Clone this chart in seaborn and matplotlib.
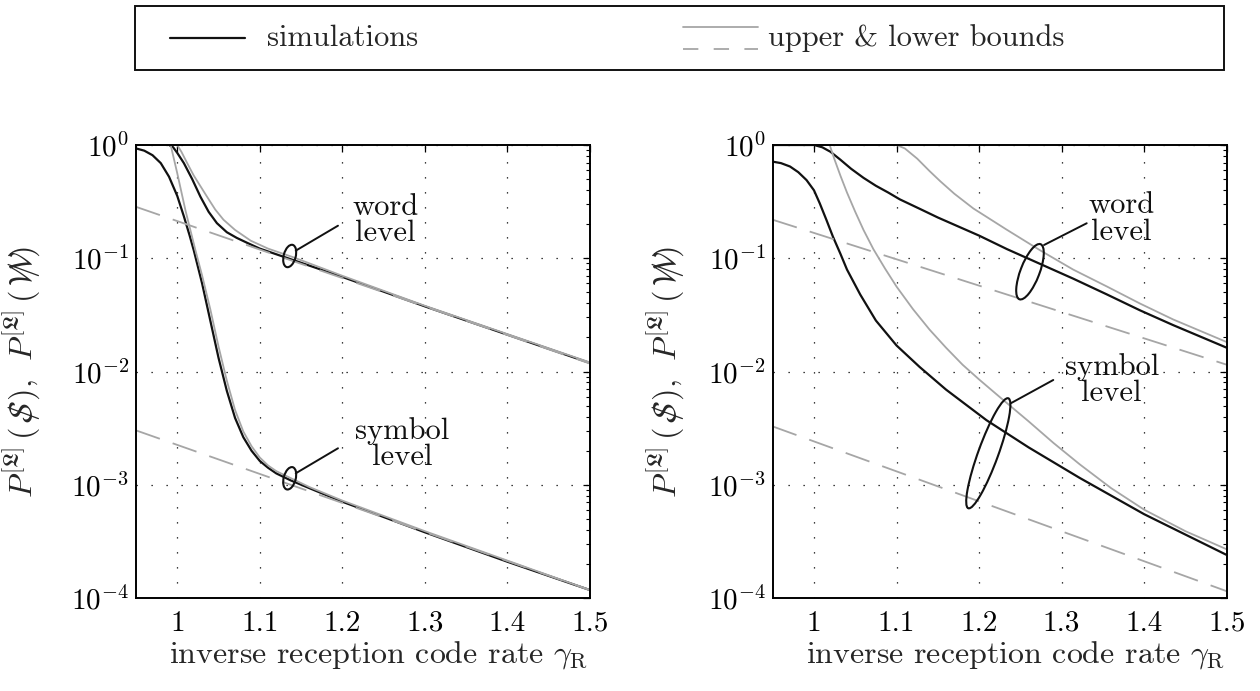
import numpy as np
import pandas as pd
import matplotlib
matplotlib.use("Agg")
import matplotlib.pyplot as plt
import seaborn as sns
from matplotlib.patches import Ellipse, Rectangle
from matplotlib.lines import Line2D
from matplotlib.transforms import ScaledTranslation
from matplotlib.ticker import FixedLocator, NullLocator, LogLocator, NullFormatter
from matplotlib.mathtext import MathTextParser
from matplotlib.font_manager import FontProperties

# ---------------- data (x = inverse reception code rate, values = log10 P) -------------
# left panel
L_word_sim_x = [0.99, 0.995, 1.0, 1.008, 1.018, 1.028, 1.038, 1.048, 1.06, 1.072, 1.085, 1.1, 1.12, 1.15, 1.2, 1.3, 1.4, 1.5]
L_word_sim_y = [0.0, -0.02, -0.07, -0.16, -0.30, -0.456, -0.59, -0.69, -0.77, -0.82, -0.865, -0.915, -0.965, -1.04, -1.165, -1.425, -1.675, -1.925]
L_word_up_x = [0.95, 1.0, 1.005, 1.012, 1.02, 1.036, 1.046, 1.056, 1.07, 1.089, 1.11, 1.14, 1.2, 1.3, 1.4, 1.5]
L_word_up_y = [0.0, 0.0, -0.06, -0.16, -0.27, -0.456, -0.57, -0.66, -0.75, -0.845, -0.915, -0.99, -1.155, -1.42, -1.67, -1.92]
L_word_lo_x = [0.95, 1.5]
L_word_lo_y = [-0.546, -1.93]

L_sym_sim_x = [0.95, 0.96, 0.97, 0.98, 0.99, 1.0, 1.008, 1.015, 1.02, 1.03, 1.04, 1.05, 1.06, 1.07, 1.08,
               1.09, 1.1, 1.11, 1.12, 1.137, 1.16, 1.2, 1.3, 1.4, 1.5]
L_sym_sim_y = [-0.03, -0.05, -0.09, -0.16, -0.28, -0.45, -0.63, -0.80, -0.93, -1.22, -1.55, -1.88, -2.17, -2.41, -2.58,
               -2.70, -2.79, -2.85, -2.90, -2.96, -3.03, -3.15, -3.42, -3.68, -3.93]
L_sym_up_x = [0.95, 0.992, 1.0, 1.01, 1.022, 1.03, 1.04, 1.05, 1.06, 1.07, 1.08, 1.09, 1.1, 1.11, 1.12, 1.137,
              1.16, 1.2, 1.3, 1.4, 1.5]
L_sym_up_y = [0.0, 0.0, -0.25, -0.58, -0.93, -1.15, -1.45, -1.78, -2.08, -2.34, -2.53, -2.66, -2.76, -2.83, -2.88, -2.94,
              -3.02, -3.14, -3.41, -3.67, -3.93]
L_sym_lo_x = [0.95, 1.5]
L_sym_lo_y = [-2.52, -3.93]

# right panel
R_word_sim_x = [0.95, 1.0, 1.01, 1.02, 1.032, 1.045, 1.06, 1.075, 1.09, 1.104, 1.13, 1.15, 1.2, 1.234, 1.274,
                1.314, 1.355, 1.395, 1.435, 1.5]
R_word_sim_y = [0.0, 0.0, -0.02, -0.06, -0.13, -0.21, -0.29, -0.36, -0.42, -0.48, -0.57, -0.64, -0.80, -0.92, -1.05,
                -1.18, -1.32, -1.46, -1.59, -1.79]
R_word_up_x = [0.95, 1.1, 1.11, 1.125, 1.14, 1.153, 1.17, 1.193, 1.234, 1.274, 1.314, 1.355, 1.395, 1.435, 1.5]
R_word_up_y = [0.0, 0.0, -0.03, -0.12, -0.23, -0.32, -0.43, -0.56, -0.75, -0.93, -1.10, -1.25, -1.40, -1.54, -1.74]
R_word_lo_x = [0.95, 1.5]
R_word_lo_y = [-0.66, -1.94]

R_sym_sim_x = [0.95, 0.96, 0.971, 0.981, 0.991, 1.0, 1.007, 1.015, 1.023, 1.032, 1.04, 1.056, 1.075, 1.1, 1.128,
               1.16, 1.209, 1.26, 1.322, 1.4, 1.5]
R_sym_sim_y = [-0.147, -0.16, -0.19, -0.24, -0.31, -0.40, -0.515, -0.66, -0.81, -0.96, -1.10, -1.32, -1.55, -1.77, -1.96,
               -2.16, -2.43, -2.67, -2.94, -3.26, -3.62]
R_sym_up_x = [0.95, 1.019, 1.025, 1.032, 1.04, 1.05, 1.06, 1.072, 1.086, 1.1, 1.12, 1.14, 1.16, 1.18, 1.2, 1.229,
              1.26, 1.29, 1.322, 1.36, 1.4, 1.45, 1.5]
R_sym_up_y = [0.0, 0.0, -0.13, -0.27, -0.42, -0.59, -0.75, -0.92, -1.09, -1.25, -1.45, -1.63, -1.79, -1.94, -2.07, -2.25,
              -2.44, -2.63, -2.82, -3.03, -3.22, -3.41, -3.57]
R_sym_lo_x = [0.95, 1.5]
R_sym_lo_y = [-2.485, -3.94]

x_ticks = [1.0, 1.1, 1.2, 1.3, 1.4, 1.5]
x_tick_labels = ["1", "1.1", "1.2", "1.3", "1.4", "1.5"]
y_ticks = [1e-4, 1e-3, 1e-2, 1e-1, 1e0]
y_tick_labels = [r"$10^{-4}$", r"$10^{-3}$", r"$10^{-2}$", r"$10^{-1}$", r"$10^{0}$"]

legend_labels = ["simulations", "upper & lower bounds"]
x_label = r"inverse reception code rate $\gamma_{\mathrm{R}}$"

# ---------------- style -------------------------------------------------------------------
sns.set_theme(style="white")
plt.rcParams.update({
    "font.family": ["cmr10", "DejaVu Serif"],
    "mathtext.fontset": "cm",
    "axes.formatter.use_mathtext": True,
    "axes.unicode_minus": True,
    "font.size": 21,
    "axes.edgecolor": "black",
    "axes.linewidth": 1.4,
})

def make_ylabel():
    cands = [
        r"$P^{[\mathfrak{L}]}\,(\,\mathcal{S}\hspace{-0.62}/\,),\;\, P^{[\mathfrak{L}]}\,(\,\mathcal{W}\hspace{-0.85}/\,)$",
        r"$P^{[\mathfrak{L}]}\,(\,\mathcal{S}\!\!\!\!/\,),\;\, P^{[\mathfrak{L}]}\,(\,\mathcal{W}\!\!\!\!\!\!/\,)$",
        r"$P^{[L]}(S),\, P^{[L]}(W)$",
    ]
    parser = MathTextParser("agg")
    for c in cands:
        try:
            parser.parse(c, dpi=100, prop=FontProperties(size=23))
            return c
        except Exception:
            continue
    return cands[-1]

y_label = make_ylabel()

W, H = 1260, 691
fig = plt.figure(figsize=(W / 100, H / 100), dpi=100)
fig.patch.set_facecolor("white")

ax_w, ax_h = 454 / W, 453 / H
axL = fig.add_axes([136 / W, 1 - 598 / H, ax_w, ax_h])
axR = fig.add_axes([772.7 / W, 1 - 598 / H, ax_w, ax_h])

BLACK = "#111111"
GRAY = "#a6a6a6"

def draw(ax, xs, ly, color, lw, dashes=None):
    df = pd.DataFrame({"x": xs, "p": np.power(10.0, np.asarray(ly, dtype=float))})
    sns.lineplot(data=df, x="x", y="p", ax=ax, color=color, lw=lw, sort=False,
                 estimator=None, legend=False)
    ln = ax.lines[-1]
    if dashes is not None:
        ln.set_dashes(dashes)
    ln.set_solid_capstyle("butt")
    ln.set_solid_joinstyle("round")
    return ln

def style_axes(ax):
    ax.set_yscale("log")
    ax.set_xlim(0.95, 1.5)
    ax.set_ylim(1e-4, 1)
    ax.xaxis.set_major_locator(FixedLocator(x_ticks))
    ax.set_xticklabels(x_tick_labels)
    ax.xaxis.set_minor_locator(NullLocator())
    ax.yaxis.set_major_locator(FixedLocator(y_ticks))
    ax.set_yticklabels(y_tick_labels)
    ax.yaxis.set_minor_locator(LogLocator(base=10, subs=np.arange(2, 10)))
    ax.yaxis.set_minor_formatter(NullFormatter())
    ax.tick_params(which="both", direction="in", top=True, right=True, colors="black",
                   labelsize=21)
    ax.tick_params(which="major", length=5, width=0.9)
    ax.tick_params(axis="x", which="major", pad=9)
    ax.tick_params(axis="y", which="major", pad=5)
    ax.tick_params(which="minor", length=3, width=0.8)
    ax.grid(True, which="major", color="black", linestyle=(0, (1, 11)), lw=0.9)
    ax.set_axisbelow(True)
    for s in ax.spines.values():
        s.set_color("black")
        s.set_linewidth(1.4)
        s.set_zorder(5)
    ax.set_xlabel(x_label, fontsize=23)
    ax.set_ylabel(y_label, fontsize=23)
    ax.xaxis.set_label_coords(0.534, -0.09)
    ax.yaxis.set_label_coords(-0.205, 0.5)

DASH = (14, 7.5)

for ax, sets in [
    (axL, [(L_word_sim_x, L_word_sim_y), (L_sym_sim_x, L_sym_sim_y),
           (L_word_up_x, L_word_up_y), (L_sym_up_x, L_sym_up_y),
           (L_word_lo_x, L_word_lo_y), (L_sym_lo_x, L_sym_lo_y)]),
    (axR, [(R_word_sim_x, R_word_sim_y), (R_sym_sim_x, R_sym_sim_y),
           (R_word_up_x, R_word_up_y), (R_sym_up_x, R_sym_up_y),
           (R_word_lo_x, R_word_lo_y), (R_sym_lo_x, R_sym_lo_y)]),
]:
    draw(ax, *sets[0], BLACK, 1.6)
    draw(ax, *sets[1], BLACK, 1.6)
    draw(ax, *sets[2], GRAY, 1.3)
    draw(ax, *sets[3], GRAY, 1.3)
    draw(ax, *sets[4], GRAY, 1.3, DASH)
    draw(ax, *sets[5], GRAY, 1.3, DASH)
    style_axes(ax)

axR.yaxis.set_label_coords(-0.189, 0.5)

# ---------------- annotations ----------------------------------------------------------
def ellipse(ax, x, ly, w_px, h_px, angle):
    tr = fig.dpi_scale_trans + ScaledTranslation(x, 10 ** ly, ax.transData)
    e = Ellipse((0, 0), w_px / 100, h_px / 100, angle=angle, transform=tr,
                fill=False, ec=BLACK, lw=1.5, zorder=6)
    ax.add_artist(e)

def pointer(ax, x1, l1, x2, l2):
    ax.annotate("", xy=(x1, 10 ** l1), xytext=(x2, 10 ** l2),
                arrowprops=dict(arrowstyle="-", lw=1.4, color=BLACK, shrinkA=0, shrinkB=0),
                zorder=6)

def label(ax, x, ly, s):
    ax.text(x, 10 ** ly, s, ha="center", va="center", fontsize=22, linespacing=0.95,
            color=BLACK, zorder=7)

# left
ellipse(axL, 1.1362, -0.980, 12, 23, -15)
pointer(axL, 1.1435, -0.933, 1.1947, -0.7126)
label(axL, 1.2519, -0.662, "word\nlevel")
ellipse(axL, 1.1362, -2.943, 12, 23, -15)
pointer(axL, 1.1435, -2.899, 1.1947, -2.678)
label(axL, 1.2721, -2.640, "symbol\nlevel")
# right
ellipse(axR, 1.2617, -1.119, 19, 59, -21)
pointer(axR, 1.2787, -0.883, 1.3304, -0.691)
label(axR, 1.3728, -0.650, "word\nlevel")
ellipse(axR, 1.2112, -2.722, 20, 117, -20)
pointer(axR, 1.2383, -2.281, 1.2899, -2.075)
label(axR, 1.3606, -2.075, "symbol\nlevel")

# ---------------- legend box -----------------------------------------------------------
def fx(p):
    return p / W

def fy(p):
    return 1 - p / H

fig.add_artist(Rectangle((fx(135), fy(70)), fx(1224) - fx(135), fy(6) - fy(70),
                         transform=fig.transFigure, fill=False, ec=BLACK, lw=1.4))
fig.add_artist(Line2D([fx(170), fx(245)], [fy(38), fy(38)], transform=fig.transFigure,
                      color=BLACK, lw=1.6))
fig.text(fx(267), fy(38), legend_labels[0], ha="left", va="center", fontsize=22)
fig.add_artist(Line2D([fx(683), fx(758)], [fy(27), fy(27)], transform=fig.transFigure,
                      color=GRAY, lw=1.3))
l2 = Line2D([fx(683), fx(758)], [fy(49), fy(49)], transform=fig.transFigure,
            color=GRAY, lw=1.3)
l2.set_dashes((8.5, 8.5))
fig.add_artist(l2)
fig.text(fx(768), fy(38), legend_labels[1], ha="left", va="center", fontsize=22)

fig.savefig("out.png", dpi=100, facecolor="white")
